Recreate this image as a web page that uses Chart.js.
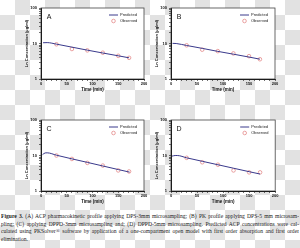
<!DOCTYPE html>
<html><head><meta charset="utf-8">
<script src="https://cdn.jsdelivr.net/npm/chart.js@4/dist/chart.umd.min.js"></script>
<style>
html,body{margin:0;padding:0;width:300px;height:248px;overflow:hidden}
body{background:repeating-conic-gradient(#e2e2e2 0 25%,#fff 0 50%) 0 0/30px 30px;position:relative}
canvas{position:absolute}
#cap{position:absolute;left:1px;top:213px;width:298px;font-family:"Liberation Serif","DejaVu Serif",serif;font-size:5.6px;line-height:7.7px;color:#222}
#cap .j{text-align:justify;text-align-last:justify;height:7.7px;overflow:hidden}
</style>
</head><body>
<canvas id="cA" width="150" height="100" style="left:0;top:0"></canvas>
<canvas id="cB" width="150" height="100" style="left:130px;top:0"></canvas>
<canvas id="cC" width="150" height="100" style="left:0;top:112px"></canvas>
<canvas id="cD" width="150" height="100" style="left:130px;top:112px"></canvas>
<div id="cap">
<div class="j"><b>Figure 3.</b> (A) ACP pharmacokinetic profile applying DPS-3mm microsampling; (B) PK profile applying DPS-5 mm microsam-</div>
<div class="j">pling; (C) applying DPPD-3mm microsampling and; (D) DPPD-5mm microsampling. Predicted ACP concentrations were cal-</div>
<div class="j">culated using PKSolver® software by application of a one-compartment open model with first order absorption and first order</div>
<div>elimination.</div>
</div>
<script>
const timeObs = [30, 60, 90, 120, 150, 171];
const obsA = [9.5, 7.0, 6.4, 5.5, 4.5, 3.95];
const obsB = [8.9, 6.7, 6.1, 5.25, 4.4, 3.6];
const obsC = [10.0, 8.0, 6.2, 5.2, 3.8, 3.55];
const obsD = [8.6, 6.45, 5.5, 3.8, 3.35, 3.35];

const timePredA = [4, 12, 30, 60, 90, 120, 150, 171];
const predA = [10.5, 10.6, 9.6, 7.9, 6.5, 5.4, 4.5, 3.95];
const timePredB = [3, 10, 30, 60, 90, 120, 150, 171];
const predB = [10.1, 10.0, 8.8, 7.3, 6.0, 5.0, 4.15, 3.62];
const timePredC = [3, 8, 12, 30, 60, 90, 120, 150, 172];
const predC = [10.6, 11.8, 11.9, 10.2, 8.05, 6.4, 5.07, 4.02, 3.4];
const timePredD = [2, 8, 12, 30, 60, 90, 120, 150, 171];
const predD = [9.6, 10.0, 10.0, 8.6, 6.87, 5.49, 4.38, 3.5, 3.0];

const yTickValues = [1,2,3,4,5,6,7,8,9,10,20,30,40,50,60,70,80,90,100];
const yLabelValues = [1, 10, 100];
const xLabelStep = 50;
const panelLetters = ['A','B','C','D'];
const yTitle = 'Ln Concentration (\u00b5g/ml)';
const xTitle = 'Time (min)';

const FONT = '"Liberation Sans", Arial, sans-serif';

const framePlugin = {
  id: 'frame',
  beforeDraw(chart) {
    const a = chart.chartArea, ctx = chart.ctx;
    ctx.save();
    ctx.fillStyle = '#fff';
    ctx.fillRect(a.left, a.top, a.right - a.left, a.bottom - a.top);
    ctx.restore();
  },
  afterDraw(chart) {
    const a = chart.chartArea, ctx = chart.ctx;
    ctx.save();
    ctx.strokeStyle = '#444';
    ctx.lineWidth = 0.8;
    ctx.strokeRect(a.left, a.top, a.right - a.left, a.bottom - a.top);
    ctx.fillStyle = '#111';
    ctx.font = '7px ' + FONT;
    ctx.textAlign = 'center';
    ctx.textBaseline = 'middle';
    ctx.fillText(chart.options.plugins.frame.letter, a.left + 8, a.top + 9);
    const ds = chart.data.datasets;
    const x0 = a.right - 35;
    ctx.strokeStyle = ds[0].borderColor;
    ctx.lineWidth = 1;
    ctx.beginPath(); ctx.moveTo(x0, a.top + 7); ctx.lineTo(x0 + 9, a.top + 7); ctx.stroke();
    ctx.strokeStyle = ds[1].borderColor;
    ctx.lineWidth = 0.8;
    ctx.beginPath(); ctx.arc(x0 + 4.5, a.top + 13, 1.8, 0, Math.PI * 2); ctx.stroke();
    ctx.fillStyle = '#222';
    ctx.font = '4px ' + FONT;
    ctx.textAlign = 'left';
    ctx.fillText(ds[0].label, x0 + 11, a.top + 7);
    ctx.fillText(ds[1].label, x0 + 11, a.top + 13);
    ctx.restore();
  }
};

function makeChart(id, letter, tPred, pred, obs, padR) {
  return new Chart(document.getElementById(id), {
    type: 'scatter',
    data: {
      datasets: [
        { label: 'Predicted', data: tPred.map((x, i) => ({x, y: pred[i]})), showLine: true,
          borderColor: '#3a3a8c', borderWidth: 1, pointRadius: 0, cubicInterpolationMode: 'monotone' },
        { label: 'Observed', data: timeObs.map((x, i) => ({x, y: obs[i]})), showLine: false,
          pointStyle: 'circle', pointRadius: 1.8, borderColor: '#e58a8a', backgroundColor: 'rgba(255,255,255,0)', borderWidth: 0.8 }
      ]
    },
    options: {
      animation: false, responsive: false, devicePixelRatio: 1,
      layout: { padding: { left: 0, top: 8, right: padR, bottom: 0 } },
      plugins: { legend: { display: false }, tooltip: { enabled: false }, frame: { letter } },
      scales: {
        x: {
          type: 'linear', min: 0, max: 200,
          ticks: { stepSize: 10, autoSkip: false, maxRotation: 0, padding: 0, color: '#111',
            font: { family: FONT, size: 4, weight: 'bold' },
            callback: v => (v % xLabelStep === 0 ? String(v) : '') },
          grid: { drawOnChartArea: false, tickLength: 2, color: '#111', lineWidth: 0.6 },
          border: { color: '#000', width: 1 },
          title: { display: true, text: xTitle, color: '#111', font: { family: FONT, size: 4.5, weight: 'bold' }, padding: { top: 0, bottom: 8 } },
          afterFit: s => { s.height = 21; }
        },
        y: {
          type: 'logarithmic', min: 1, max: 100,
          afterBuildTicks: s => { s.ticks = yTickValues.map(v => ({ value: v })); },
          ticks: { autoSkip: false, padding: 2, color: '#111',
            font: { family: FONT, size: 4, weight: 'bold' },
            callback: v => (yLabelValues.includes(v) ? String(v) : '') },
          grid: { drawOnChartArea: false, tickLength: 2, color: '#111', lineWidth: 0.6 },
          border: { color: '#000', width: 1 },
          title: { display: true, text: yTitle, color: '#111', font: { family: FONT, size: 4, weight: 'bold' }, padding: { top: 24, bottom: 0 } },
          afterFit: s => { s.width = 41; }
        }
      }
    },
    plugins: [framePlugin]
  });
}

makeChart('cA', panelLetters[0], timePredA, predA, obsA, 6);
makeChart('cB', panelLetters[1], timePredB, predB, obsB, 5);
makeChart('cC', panelLetters[2], timePredC, predC, obsC, 6);
makeChart('cD', panelLetters[3], timePredD, predD, obsD, 4);
</script>
</body></html>
